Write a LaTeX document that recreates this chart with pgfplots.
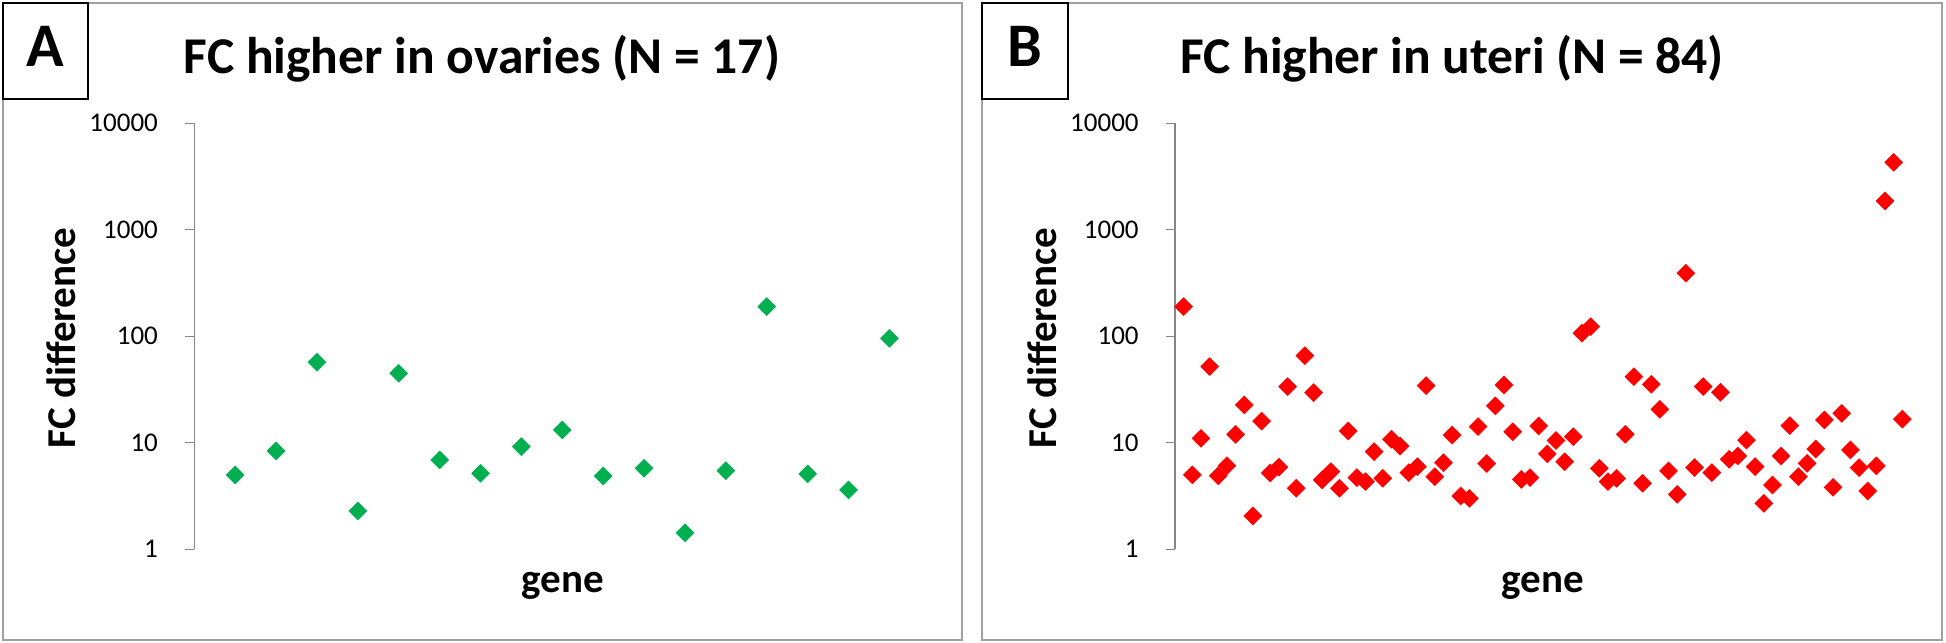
\documentclass[border=0pt]{standalone}
\usepackage{fontspec}
\setmainfont{Carlito}
\usepackage{pgfplots}
\pgfplotsset{compat=1.18}
\definecolor{exgreen}{HTML}{00B050}
\definecolor{exred}{HTML}{FF0000}
\definecolor{framegray}{HTML}{A0A0A0}
\definecolor{axisgray}{HTML}{868686}

\begin{document}
\begin{tikzpicture}
\path (0pt,0pt) rectangle (973pt,321pt);
% panel frames
\draw[framegray, line width=0.7pt] (1.5pt,1pt) rectangle (481pt,319.5pt);
\draw[framegray, line width=0.7pt] (491pt,1pt) rectangle (971pt,319.5pt);

\begin{axis}[
  scale only axis, width=368pt, height=213pt, anchor=south west, at={(97.15pt,46.35pt)},
  ymode=log, ymin=1, ymax=10000, xmin=0, xmax=18,
  axis x line=none, axis y line=left,
  axis line style={-, draw=axisgray, line width=0.6pt},
  ytick={1,10,100,1000,10000}, yticklabels={1,10,100,1000,10000},
  yminorticks=false, tick align=outside, major tick length=4.5pt,
  tick style={draw=axisgray, line width=0.6pt},
  yticklabel style={font=\fontsize{13.5}{16}\selectfont, anchor=east, inner sep=0pt, xshift=-13.5pt},
  clip=false]
\addplot[exgreen, only marks, mark=square*, mark size=3.15pt, mark options={rotate=45, line width=0.3pt}] coordinates {
(1,4.99) (2,8.38) (3,57.0) (4,2.29) (5,44.9) (6,6.90) (7,5.17) (8,9.20) (9,13.2)
(10,4.88) (11,5.76) (12,1.43) (13,5.48) (14,190) (15,5.10) (16,3.61) (17,95.8)};
\end{axis}

\begin{axis}[
  scale only axis, width=368pt, height=213pt, anchor=south west, at={(587.5pt,46.35pt)},
  ymode=log, ymin=1, ymax=10000, xmin=0, xmax=85,
  axis x line=none, axis y line=left,
  axis line style={-, draw=axisgray, line width=0.6pt},
  ytick={1,10,100,1000,10000}, yticklabels={1,10,100,1000,10000},
  yminorticks=false, tick align=outside, major tick length=4.5pt,
  tick style={draw=axisgray, line width=0.6pt},
  yticklabel style={font=\fontsize{13.5}{16}\selectfont, anchor=east, inner sep=0pt, xshift=-13.5pt},
  clip=false]
\addplot[exred, only marks, mark=square*, mark size=3.15pt, mark options={rotate=45, line width=0.3pt}] coordinates {
(1,190) (2,5.0) (3,11.0) (4,52) (5,4.9) (6,6.1) (7,12.0) (8,22.7) (9,2.06) (10,16.0)
(11,5.2) (12,5.9) (13,33.7) (14,3.74) (15,65.8) (16,29.6) (17,4.48) (18,5.36) (19,3.74) (20,12.9)
(21,4.71) (22,4.32) (23,8.26) (24,4.64) (25,10.8) (26,9.3) (27,5.25) (28,5.97) (29,34.4) (30,4.81)
(31,6.5) (32,11.8) (33,3.17) (34,3.01) (35,14.2) (36,6.4) (37,22.2) (38,34.9) (39,12.7) (40,4.54)
(41,4.71) (42,14.4) (43,7.86) (44,10.5) (45,6.65) (46,11.4) (47,107) (48,123) (49,5.76) (50,4.32)
(51,4.64) (52,12.0) (53,41.8) (54,4.17) (55,35.4) (56,20.6) (57,5.44) (58,3.28) (59,391) (60,5.85)
(61,33.7) (62,5.25) (63,29.8) (64,7.0) (65,7.52) (66,10.6) (67,5.97) (68,2.70) (69,4.02) (70,7.52)
(71,14.5) (72,4.81) (73,6.42) (74,8.75) (75,16.4) (76,3.82) (77,18.9) (78,8.57) (79,5.85) (80,3.53)
(81,6.07) (82,1866) (83,4303) (84,16.7)};
\end{axis}

% titles
\node[anchor=base, font=\fontsize{25.8}{30}\selectfont\bfseries] at (241pt,284pt) {FC higher in ovaries (N = 17)};
\node[anchor=base, font=\fontsize{25.8}{30}\selectfont\bfseries] at (726pt,284pt) {FC higher in uteri (N = 84)};
% axis labels
\node[rotate=90, anchor=base, font=\fontsize{20.5}{24}\selectfont\bfseries] at (37.5pt,152pt) {FC difference};
\node[rotate=90, anchor=base, font=\fontsize{20.5}{24}\selectfont\bfseries] at (528pt,152pt) {FC difference};
\node[anchor=base, font=\fontsize{20.5}{24}\selectfont\bfseries] at (281.25pt,24.65pt) {gene};
\node[anchor=base, font=\fontsize{20.5}{24}\selectfont\bfseries] at (771.5pt,24.65pt) {gene};
% panel letters
\draw[fill=white, line width=1pt] (1.35pt,319.35pt) rectangle (44pt,271.5pt);
\node[anchor=base, font=\fontsize{31}{36}\selectfont\bfseries] at (22.5pt,287.5pt) {A};
\draw[fill=white, line width=1pt] (490.85pt,319.5pt) rectangle (534.15pt,271.65pt);
\node[anchor=base, font=\fontsize{31}{36}\selectfont\bfseries] at (512.5pt,287.5pt) {B};
\end{tikzpicture}
\end{document}
